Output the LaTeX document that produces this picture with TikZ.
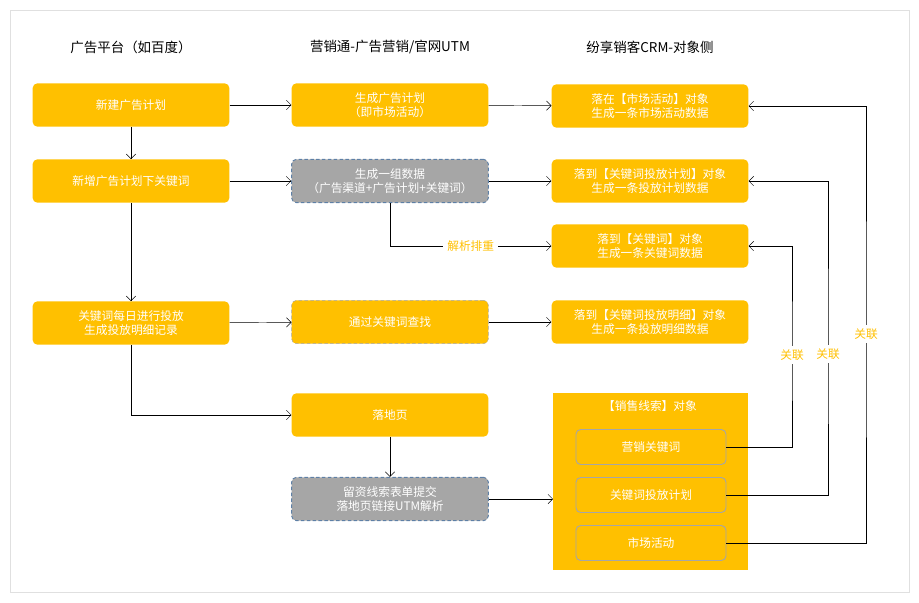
\documentclass[tikz,border=0pt]{standalone}
\usepackage{fontspec}
\setmainfont{Noto Sans CJK SC}
\usetikzlibrary{arrows.meta}
\definecolor{boxyellow}{HTML}{FFC000}
\definecolor{boxgray}{HTML}{A6A6A6}
\definecolor{dashblue}{HTML}{5E80A6}
\begin{document}
\begin{tikzpicture}[x=0.03cm,y=-0.03cm,
  flowbox/.style={rectangle,rounded corners=4pt,fill=boxyellow,text=white,minimum width=5.9cm,minimum height=1.3cm,align=center,font=\fontsize{10}{12}\selectfont},
  databox/.style={flowbox,fill=boxgray,draw=dashblue,densely dashed,thick},
  inner/.style={rectangle,rounded corners=4pt,draw=boxgray,thick,text=white,minimum width=4.5cm,minimum height=1.05cm,font=\fontsize{10}{12}\selectfont},
  head/.style={font=\fontsize{11.5}{13}\selectfont},
  link/.style={-{Straight Barb[length=4pt]},thin},
  tag/.style={text=boxyellow,font=\fontsize{10}{12}\selectfont,fill=white}]
\useasboundingbox (0,0) rectangle (919,602);
\draw[black!12,thick] (10,10) rectangle (909,592);

\node[head] at (131,47) {广告平台（如百度）};
\node[head] at (390,47) {营销通-广告营销/官网UTM};
\node[head] at (650,47) {纷享销客CRM-对象侧};

\node[flowbox] (plan) at (131,105) {新建广告计划};
\node[flowbox] (kw) at (131,181) {新增广告计划下关键词};
\node[flowbox] (daily) at (131,323) {关键词每日进行投放\\生成投放明细记录};

\node[flowbox] (gen) at (390,105) {生成广告计划\\（即市场活动）};
\node[databox] (group) at (390,181) {生成一组数据\\（广告渠道+广告计划+关键词）};
\node[flowbox,draw=boxgray,densely dashed] (find) at (390,322) {通过关键词查找};
\node[flowbox] (land) at (390,415) {落地页};
\node[databox] (form) at (390,499) {留资线索表单提交\\落地页链接UTM解析};

\node[flowbox] (act) at (650,106) {落在【市场活动】对象\\生成一条市场活动数据};
\node[flowbox] (kplan) at (650,181) {落到【关键词投放计划】对象\\生成一条投放计划数据};
\node[flowbox] (kword) at (650,246) {落到【关键词】对象\\生成一条关键词数据};
\node[flowbox] (kdet) at (650,322) {落到【关键词投放明细】对象\\生成一条投放明细数据};

\fill[boxyellow] (553,393) rectangle (748,570);
\coordinate (lead) at (553,499);
\node[text=white,font=\fontsize{10}{12}\selectfont] at (650,406) {【销售线索】对象};
\node[inner] (mkw) at (651,447) {营销关键词};
\node[inner] (mplan) at (651,495) {关键词投放计划};
\node[inner] (mact) at (651,543) {市场活动};

\draw[link] (plan) -- (gen);
\draw[link] (gen) -- (act);
\draw[link] (plan) -- (kw);
\draw[link] (kw) -- (group);
\draw[link] (group) -- (kplan);
\draw[link] (group.south) |- node[tag,pos=0.75] {解析排重} (kword);
\draw[link] (kw) -- (daily);
\draw[link] (daily) -- (find);
\draw[link] (find) -- (kdet);
\draw[link] (daily.south) |- (land);
\draw[link] (land) -- (form);
\draw[link] (form) -- (lead);

\draw[link] (mkw.east) -| (792,355) node[tag] {关联} |- (kword.east);
\draw[link] (mplan.east) -| (828,354) node[tag] {关联} |- (kplan.east);
\draw[link] (mact.east) -| (866,334) node[tag] {关联} |- (act.east);
\end{tikzpicture}
\end{document}
